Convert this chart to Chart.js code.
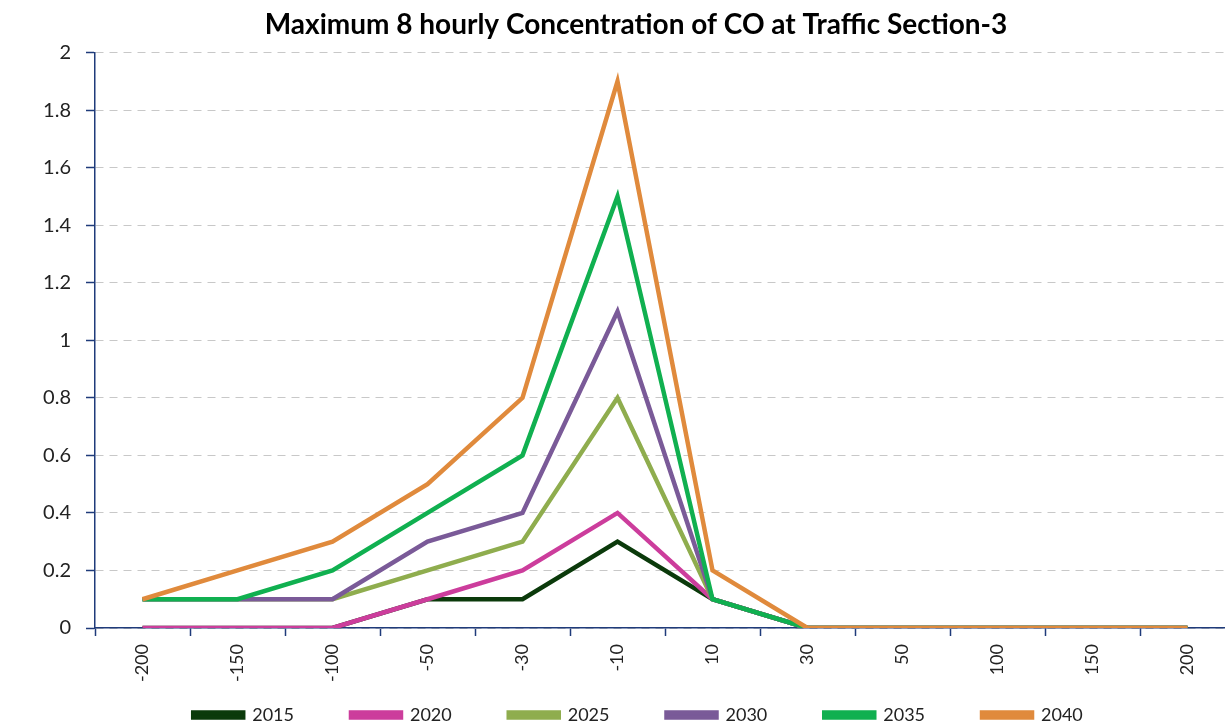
<!DOCTYPE html>
<html>
<head>
<meta charset="utf-8">
<script src="https://cdn.jsdelivr.net/npm/chart.js@4/dist/chart.umd.min.js"></script>
<style>
  html, body { margin: 0; padding: 0; background: #fff; overflow: hidden; }
  #wrap { position: absolute; left: 0; top: 0; width: 1240px; height: 725px; }
</style>
</head>
<body>
<div id="wrap"><canvas id="chartCO" width="1240" height="725"></canvas></div>
<script>
// distances (m) from the road edge
var distances = ['-200', '-150', '-100', '-50', '-30', '-10', '10', '30', '50', '100', '150', '200'];
var years = ['2015', '2020', '2025', '2030', '2035', '2040'];

var co2015 = [0, 0, 0, 0.1, 0.1, 0.3, 0.1, 0, 0, 0, 0, 0];
var co2020 = [0, 0, 0, 0.1, 0.2, 0.4, 0.1, 0, 0, 0, 0, 0];
var co2025 = [0.1, 0.1, 0.1, 0.2, 0.3, 0.8, 0.1, 0, 0, 0, 0, 0];
var co2030 = [0.1, 0.1, 0.1, 0.3, 0.4, 1.1, 0.1, 0, 0, 0, 0, 0];
var co2035 = [0.1, 0.1, 0.2, 0.4, 0.6, 1.5, 0.1, 0, 0, 0, 0, 0];
var co2040 = [0.1, 0.2, 0.3, 0.5, 0.8, 1.9, 0.2, 0, 0, 0, 0, 0];

var yTicks = [0, 0.2, 0.4, 0.6, 0.8, 1, 1.2, 1.4, 1.6, 1.8, 2];

(function () {
  var el = document.getElementById('chartCO');
  if (!el || typeof Chart === 'undefined') return;

  var series = [co2015, co2020, co2025, co2030, co2035, co2040];
  var colors = ['#0b3a0b', '#cc3d9c', '#8fad4e', '#7a5a98', '#10b050', '#e08a3c'];
  var navy = '#1f3b7a';
  var font = 'Lato, "Noto Sans", sans-serif';

  var datasets = years.map(function (y, i) {
    return {
      label: y,
      data: series[i],
      borderColor: colors[i],
      backgroundColor: colors[i],
      borderWidth: 4.5,
      pointRadius: 0,
      tension: 0,
      fill: false,
      order: years.length - i   // later years drawn on top
    };
  });

  new Chart(el.getContext('2d'), {
    type: 'line',
    data: { labels: distances, datasets: datasets },
    options: {
      responsive: false,
      animation: false,
      layout: { padding: { left: 37, right: 5, top: 0, bottom: 0 } },
      plugins: {
        title: {
          display: true,
          text: 'Maximum 8 hourly Concentration of CO at Traffic Section-3',
          color: '#000',
          font: { family: font, size: 28, weight: 'bold' },
          padding: { top: 8, bottom: 11 }
        },
        legend: {
          position: 'bottom',
          fullSize: false,
          maxHeight: 22,
          labels: {
            sort: function (a, b) { return a.datasetIndex - b.datasetIndex; },
            // wider gap between entries without extra vertical room
            generateLabels: function (chart) {
              var items = Chart.defaults.plugins.legend.labels.generateLabels(chart);
              items.forEach(function (it) { it.text = it.text + '\u2003\u2003\u2003\u2003'; });
              return items;
            },
            boxWidth: 50,
            boxHeight: 5,
            padding: 3,
            color: '#222',
            font: { family: font, size: 18 }
          }
        },
        tooltip: { enabled: false }
      },
      scales: {
        x: {
          offset: true,
          afterFit: function (s) { s.height = 75; },
          grid: {
            offset: true,
            drawOnChartArea: false,
            drawTicks: true,
            tickLength: 8,
            tickColor: navy,
            tickWidth: 1.5
          },
          border: { color: navy, width: 1.5 },
          ticks: {
            minRotation: 90,
            maxRotation: 90,
            padding: 8,
            color: '#222',
            font: { family: font, size: 18 }
          }
        },
        y: {
          min: 0,
          max: 2,
          afterFit: function (s) { s.width = 58; },
          afterBuildTicks: function (s) {
            s.ticks = yTicks.map(function (v) { return { value: v }; });
          },
          grid: {
            color: '#c8c8c8',
            lineWidth: 1,
            drawTicks: true,
            tickLength: 9,
            tickColor: navy,
            tickWidth: 1.5,
            tickBorderDash: []
          },
          border: { color: navy, width: 1.5, dash: [8, 6] },
          ticks: {
            padding: 15,
            color: '#222',
            font: { family: font, size: 20 },
            callback: function (v) { return String(+Number(v).toFixed(1)); }
          }
        }
      }
    }
  });
})();
</script>
</body>
</html>
